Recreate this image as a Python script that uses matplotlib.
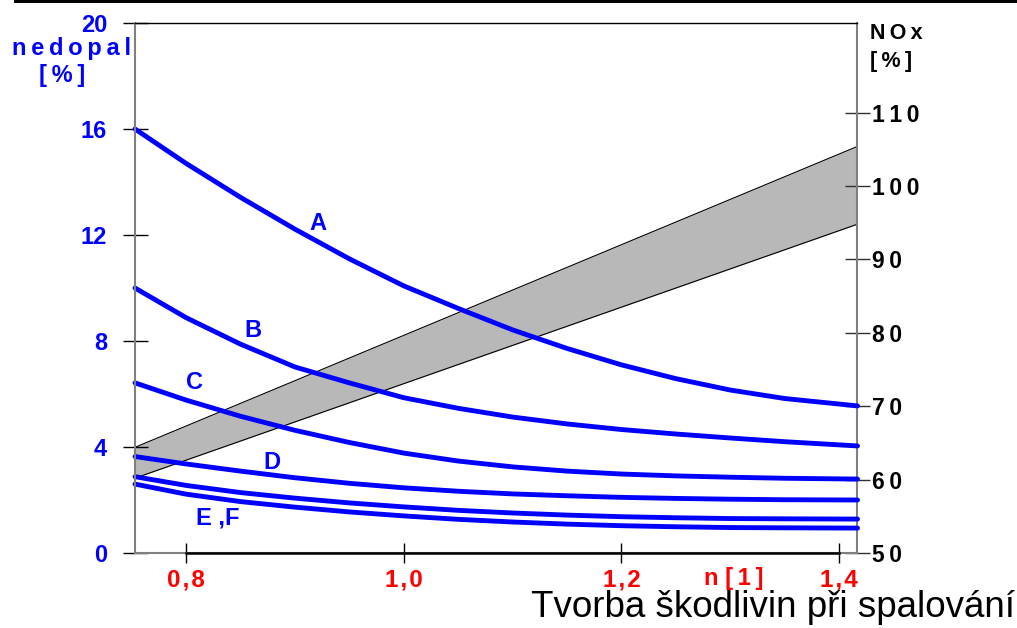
import numpy as np
import matplotlib
matplotlib.use("Agg")
import matplotlib.pyplot as plt
from matplotlib.patches import Rectangle

plt.rcParams['font.family'] = ['Liberation Sans', 'DejaVu Sans']

# excess air ratio n [1]
n = [0.753, 0.80, 0.85, 0.90, 0.95, 1.00, 1.05, 1.10, 1.15, 1.20, 1.25, 1.30, 1.35, 1.417]

# unburnt fuel (nedopal) [%] for the curves A..F
nedopal_A = [16.0, 14.70, 13.42, 12.22, 11.10, 10.08, 9.23, 8.42, 7.72, 7.10, 6.58, 6.15, 5.83, 5.55]
nedopal_B = [10.0, 8.88, 7.88, 7.02, 6.42, 5.86, 5.46, 5.13, 4.87, 4.66, 4.49, 4.34, 4.20, 4.04]
nedopal_C = [6.42, 5.77, 5.16, 4.63, 4.17, 3.77, 3.47, 3.25, 3.09, 2.98, 2.91, 2.86, 2.82, 2.79]
nedopal_D = [3.64, 3.36, 3.09, 2.84, 2.63, 2.46, 2.33, 2.23, 2.16, 2.10, 2.06, 2.03, 2.01, 2.00]
nedopal_E = [2.88, 2.55, 2.28, 2.07, 1.89, 1.74, 1.61, 1.51, 1.43, 1.37, 1.33, 1.30, 1.29, 1.28]
nedopal_F = [2.60, 2.22, 1.94, 1.73, 1.55, 1.40, 1.27, 1.17, 1.09, 1.03, 0.99, 0.96, 0.95, 0.94]

# NOx band [%]
nox_n = [0.753, 1.417]
nox_upper = [64.4, 105.4]
nox_lower = [60.2, 94.8]

left_ticks = [0, 4, 8, 12, 16, 20]
right_ticks = [50, 60, 70, 80, 90, 100, 110]
x_ticks = [0.8, 1.0, 1.2, 1.4]
x_labels = ["0,8", "1,0", "1,2", "1,4"]


def sp(s, gap="\u2009"):
    # letter spaced text, as in the original slide
    return gap.join(s)


BLUE = "#0000ff"
RED = "#ff0000"
GRAY = "#808080"

fig = plt.figure(figsize=(10.17, 6.28), dpi=100)
ax = fig.add_axes([135 / 1017, 1 - 553 / 628, 722 / 1017, 530 / 628])
ax2 = ax.twinx()
ax.set_zorder(ax2.get_zorder() + 1)
ax.patch.set_visible(False)

ax.set_xlim(0.753, 1.4165)
ax.set_ylim(0, 20)
ax2.set_ylim(50, 50 + 530 / 7.34)

# NOx band
ax2.fill_between(nox_n, nox_lower, nox_upper, color="#b8b8b8", lw=0)
ax2.plot(nox_n, nox_upper, color="black", lw=0.8)
ax2.plot(nox_n, nox_lower, color="black", lw=0.8)

# unburnt curves
for ys in [nedopal_A, nedopal_B, nedopal_C, nedopal_D, nedopal_E, nedopal_F]:
    ax.plot(n, ys, color=BLUE, lw=3.5, solid_capstyle="round",
            solid_joinstyle="round", clip_on=False)

lab_kw = dict(color=BLUE, fontsize=17, fontweight="bold", ha="center", va="center")
ax.text(0.921, 12.42, "A", **lab_kw)
ax.text(0.861, 8.38, "B", **lab_kw)
ax.text(0.808, 6.42, "C", **lab_kw)
ax.text(0.879, 3.43, "D", **lab_kw)
ax.text(0.829, 1.32, "E ,F", **lab_kw)

# spines
for s in ["left", "right", "top", "bottom"]:
    ax2.spines[s].set_visible(False)
ax.spines["right"].set_visible(False)
ax2.spines["right"].set_visible(True)
ax2.spines["right"].set_color(GRAY)
ax2.spines["right"].set_linewidth(1.5)
ax.spines["left"].set_color(GRAY)
ax.spines["left"].set_linewidth(1.5)
ax.spines["bottom"].set_color(GRAY)
ax.spines["bottom"].set_linewidth(1.5)
ax.spines["top"].set_color("black")
ax.spines["top"].set_linewidth(1.0)
ax.plot([0.8, 1.4], [0, 0], color="black", lw=1.8, clip_on=False, zorder=5)

# ticks
ax.set_yticks(left_ticks)
ax.set_yticklabels([str(t) for t in left_ticks])
ax.tick_params(axis="y", direction="inout", length=18, width=1, color="black",
               labelcolor=BLUE, labelsize=17, pad=11)
ax2.set_yticks(right_ticks)
ax2.set_yticklabels([sp(str(t)) for t in right_ticks])
ax2.tick_params(axis="y", direction="inout", length=18, width=1, color="#303030",
                labelcolor="black", labelsize=16.5, pad=1.5)
ax.set_xticks(x_ticks)
ax.set_xticklabels([sp(t, "\u200a") for t in x_labels])
ax.tick_params(axis="x", direction="inout", length=14, width=1, color="black",
               labelcolor=RED, labelsize=17.5, pad=4)
for lbl in ax.get_yticklabels() + ax2.get_yticklabels() + ax.get_xticklabels():
    lbl.set_fontweight("bold")

# axis titles
fig.text(71 / 1017, 1 - 55 / 628, sp("nedopal"), color=BLUE, fontsize=17,
         fontweight="bold", ha="center", va="baseline")
fig.text(62 / 1017, 1 - 82 / 628, sp("[%]"), color=BLUE, fontsize=17,
         fontweight="bold", ha="center", va="baseline")
fig.text(870 / 1017, 1 - 39 / 628, sp("NOx"), color="black", fontsize=15.5,
         fontweight="bold", ha="left", va="baseline")
fig.text(870 / 1017, 1 - 67 / 628, sp("[%]"), color="black", fontsize=15.5,
         fontweight="bold", ha="left", va="baseline")
fig.text(734 / 1017, 1 - 579 / 628, "n [\u20091\u2009]", color=RED, fontsize=17,
         fontweight="bold", ha="center", va="center")

fig.text(1015 / 1017, 1 - 617 / 628, "Tvorba škodlivin při spalování",
         color="black", fontsize=26.5, ha="right", va="baseline")

# black bar along the top edge
fig.add_artist(Rectangle((14 / 1017, 1 - 3 / 628), 1, 3 / 628,
                         transform=fig.transFigure, color="black", lw=0))

fig.savefig("out.png", dpi=100)
